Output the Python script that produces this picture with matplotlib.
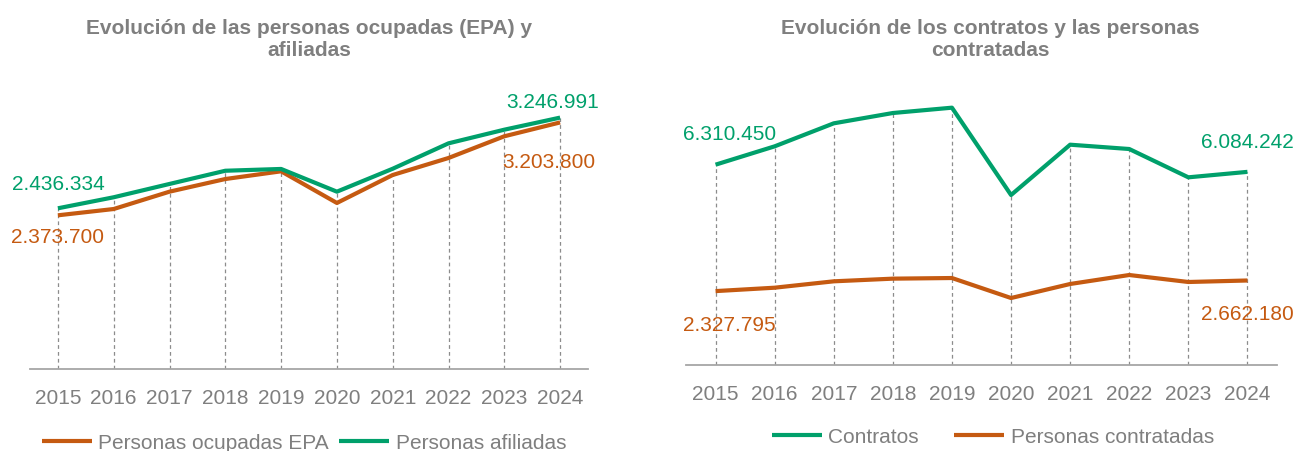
import numpy as np
import matplotlib
matplotlib.use("Agg")
import matplotlib.pyplot as plt

# data
years = ["2015", "2016", "2017", "2018", "2019", "2020", "2021", "2022", "2023", "2024"]
ocupados_epa = [2373700, 2430000, 2585000, 2698000, 2767000, 2484000, 2734000, 2886000, 3080000, 3203800]
afiliados = [2436334, 2535000, 2654000, 2772000, 2788000, 2585000, 2790000, 3017000, 3139000, 3246991]
contratos = [6310450, 6888000, 7613000, 7938000, 8106000, 5355000, 6940000, 6804000, 5912000, 6084242]
contratadas = [2327795, 2435000, 2636000, 2720000, 2740000, 2110000, 2552000, 2835000, 2615000, 2662180]

GREEN = "#00A06B"
ORANGE = "#C55A11"
GREY = "#7F7F7F"

plt.rcParams['font.family'] = ['Liberation Sans', 'DejaVu Sans']


def fmt(v):
    return f"{v:,}".replace(",", ".")


def draw_panel(ax, series, ylim):
    x = np.arange(len(years))
    top = np.max(np.vstack([s for s, _, _ in series]), axis=0)
    ax.vlines(x, ylim[0], top, colors="#8C8C8C", linestyles=(0, (3, 2.5)), lw=0.9, zorder=1)
    for vals, color, label in series:
        ax.plot(x, vals, color=color, lw=3, label=label, zorder=3, solid_capstyle="butt")
    ax.set_xlim(-0.5, 9.5)
    ax.set_ylim(*ylim)
    ax.set_xticks(x)
    ax.set_xticklabels(years, fontsize=15, color=GREY)
    ax.tick_params(axis="x", length=0, pad=14)
    ax.set_yticks([])
    for s in ["top", "right", "left"]:
        ax.spines[s].set_visible(False)
    ax.spines["bottom"].set_color("#A6A6A6")
    ax.spines["bottom"].set_linewidth(1.3)
    return x


fig = plt.figure(figsize=(12.96, 4.52), dpi=100)

# left panel
ax1 = fig.add_axes([30 / 1296, 82 / 452, 558 / 1296, 279.7 / 452])
x = draw_panel(ax1, [(ocupados_epa, ORANGE, "Personas ocupadas EPA"),
                     (afiliados, GREEN, "Personas afiliadas")], (1000000, 3500000))
ax1.annotate(fmt(afiliados[0]), (x[0], afiliados[0]), xytext=(0, 25), textcoords="offset pixels",
             ha="center", va="center", color=GREEN, fontsize=15)
ax1.annotate(fmt(ocupados_epa[0]), (x[0], ocupados_epa[0]), xytext=(0, -21), textcoords="offset pixels",
             ha="center", va="center", color=ORANGE, fontsize=15)
ax1.annotate(fmt(afiliados[-1]), (x[-1], afiliados[-1]), xytext=(-7, 16), textcoords="offset pixels",
             ha="center", va="center", color=GREEN, fontsize=15)
ax1.annotate(fmt(ocupados_epa[-1]), (x[-1], ocupados_epa[-1]), xytext=(-11, -39), textcoords="offset pixels",
             ha="center", va="center", color=ORANGE, fontsize=15)
fig.text(309 / 1296, 1 - 19 / 452, "Evolución de las personas ocupadas (EPA) y\nafiliadas",
         ha="center", va="top", fontsize=15, fontweight="bold", color=GREY, linespacing=1.2)
fig.legend(*ax1.get_legend_handles_labels(), loc="center", bbox_to_anchor=(304 / 1296, 8 / 452),
           ncol=2, frameon=False, fontsize=15, handlelength=2.4, handletextpad=0.3,
           columnspacing=0.5, labelcolor=GREY)

# right panel
ax2 = fig.add_axes([686 / 1296, 86 / 452, 591 / 1296, 285.7 / 452])
x = draw_panel(ax2, [(contratos, GREEN, "Contratos"),
                     (contratadas, ORANGE, "Personas contratadas")], (0, 9000000))
ax2.annotate(fmt(contratos[0]), (x[0], contratos[0]), xytext=(14, 31), textcoords="offset pixels",
             ha="center", va="center", color=GREEN, fontsize=15)
ax2.annotate(fmt(contratadas[0]), (x[0], contratadas[0]), xytext=(14, -33), textcoords="offset pixels",
             ha="center", va="center", color=ORANGE, fontsize=15)
ax2.annotate(fmt(contratos[-1]), (x[-1], contratos[-1]), xytext=(0, 30), textcoords="offset pixels",
             ha="center", va="center", color=GREEN, fontsize=15)
ax2.annotate(fmt(contratadas[-1]), (x[-1], contratadas[-1]), xytext=(0, -33), textcoords="offset pixels",
             ha="center", va="center", color=ORANGE, fontsize=15)
fig.text(990 / 1296, 1 - 19 / 452, "Evolución de los contratos y las personas\ncontratadas",
         ha="center", va="top", fontsize=15, fontweight="bold", color=GREY, linespacing=1.2)
fig.legend(*ax2.get_legend_handles_labels(), loc="center", bbox_to_anchor=(993 / 1296, 14 / 452),
           ncol=2, frameon=False, fontsize=15, handlelength=2.4, handletextpad=0.3,
           columnspacing=1.7, labelcolor=GREY)

fig.savefig("out.png", dpi=100)
